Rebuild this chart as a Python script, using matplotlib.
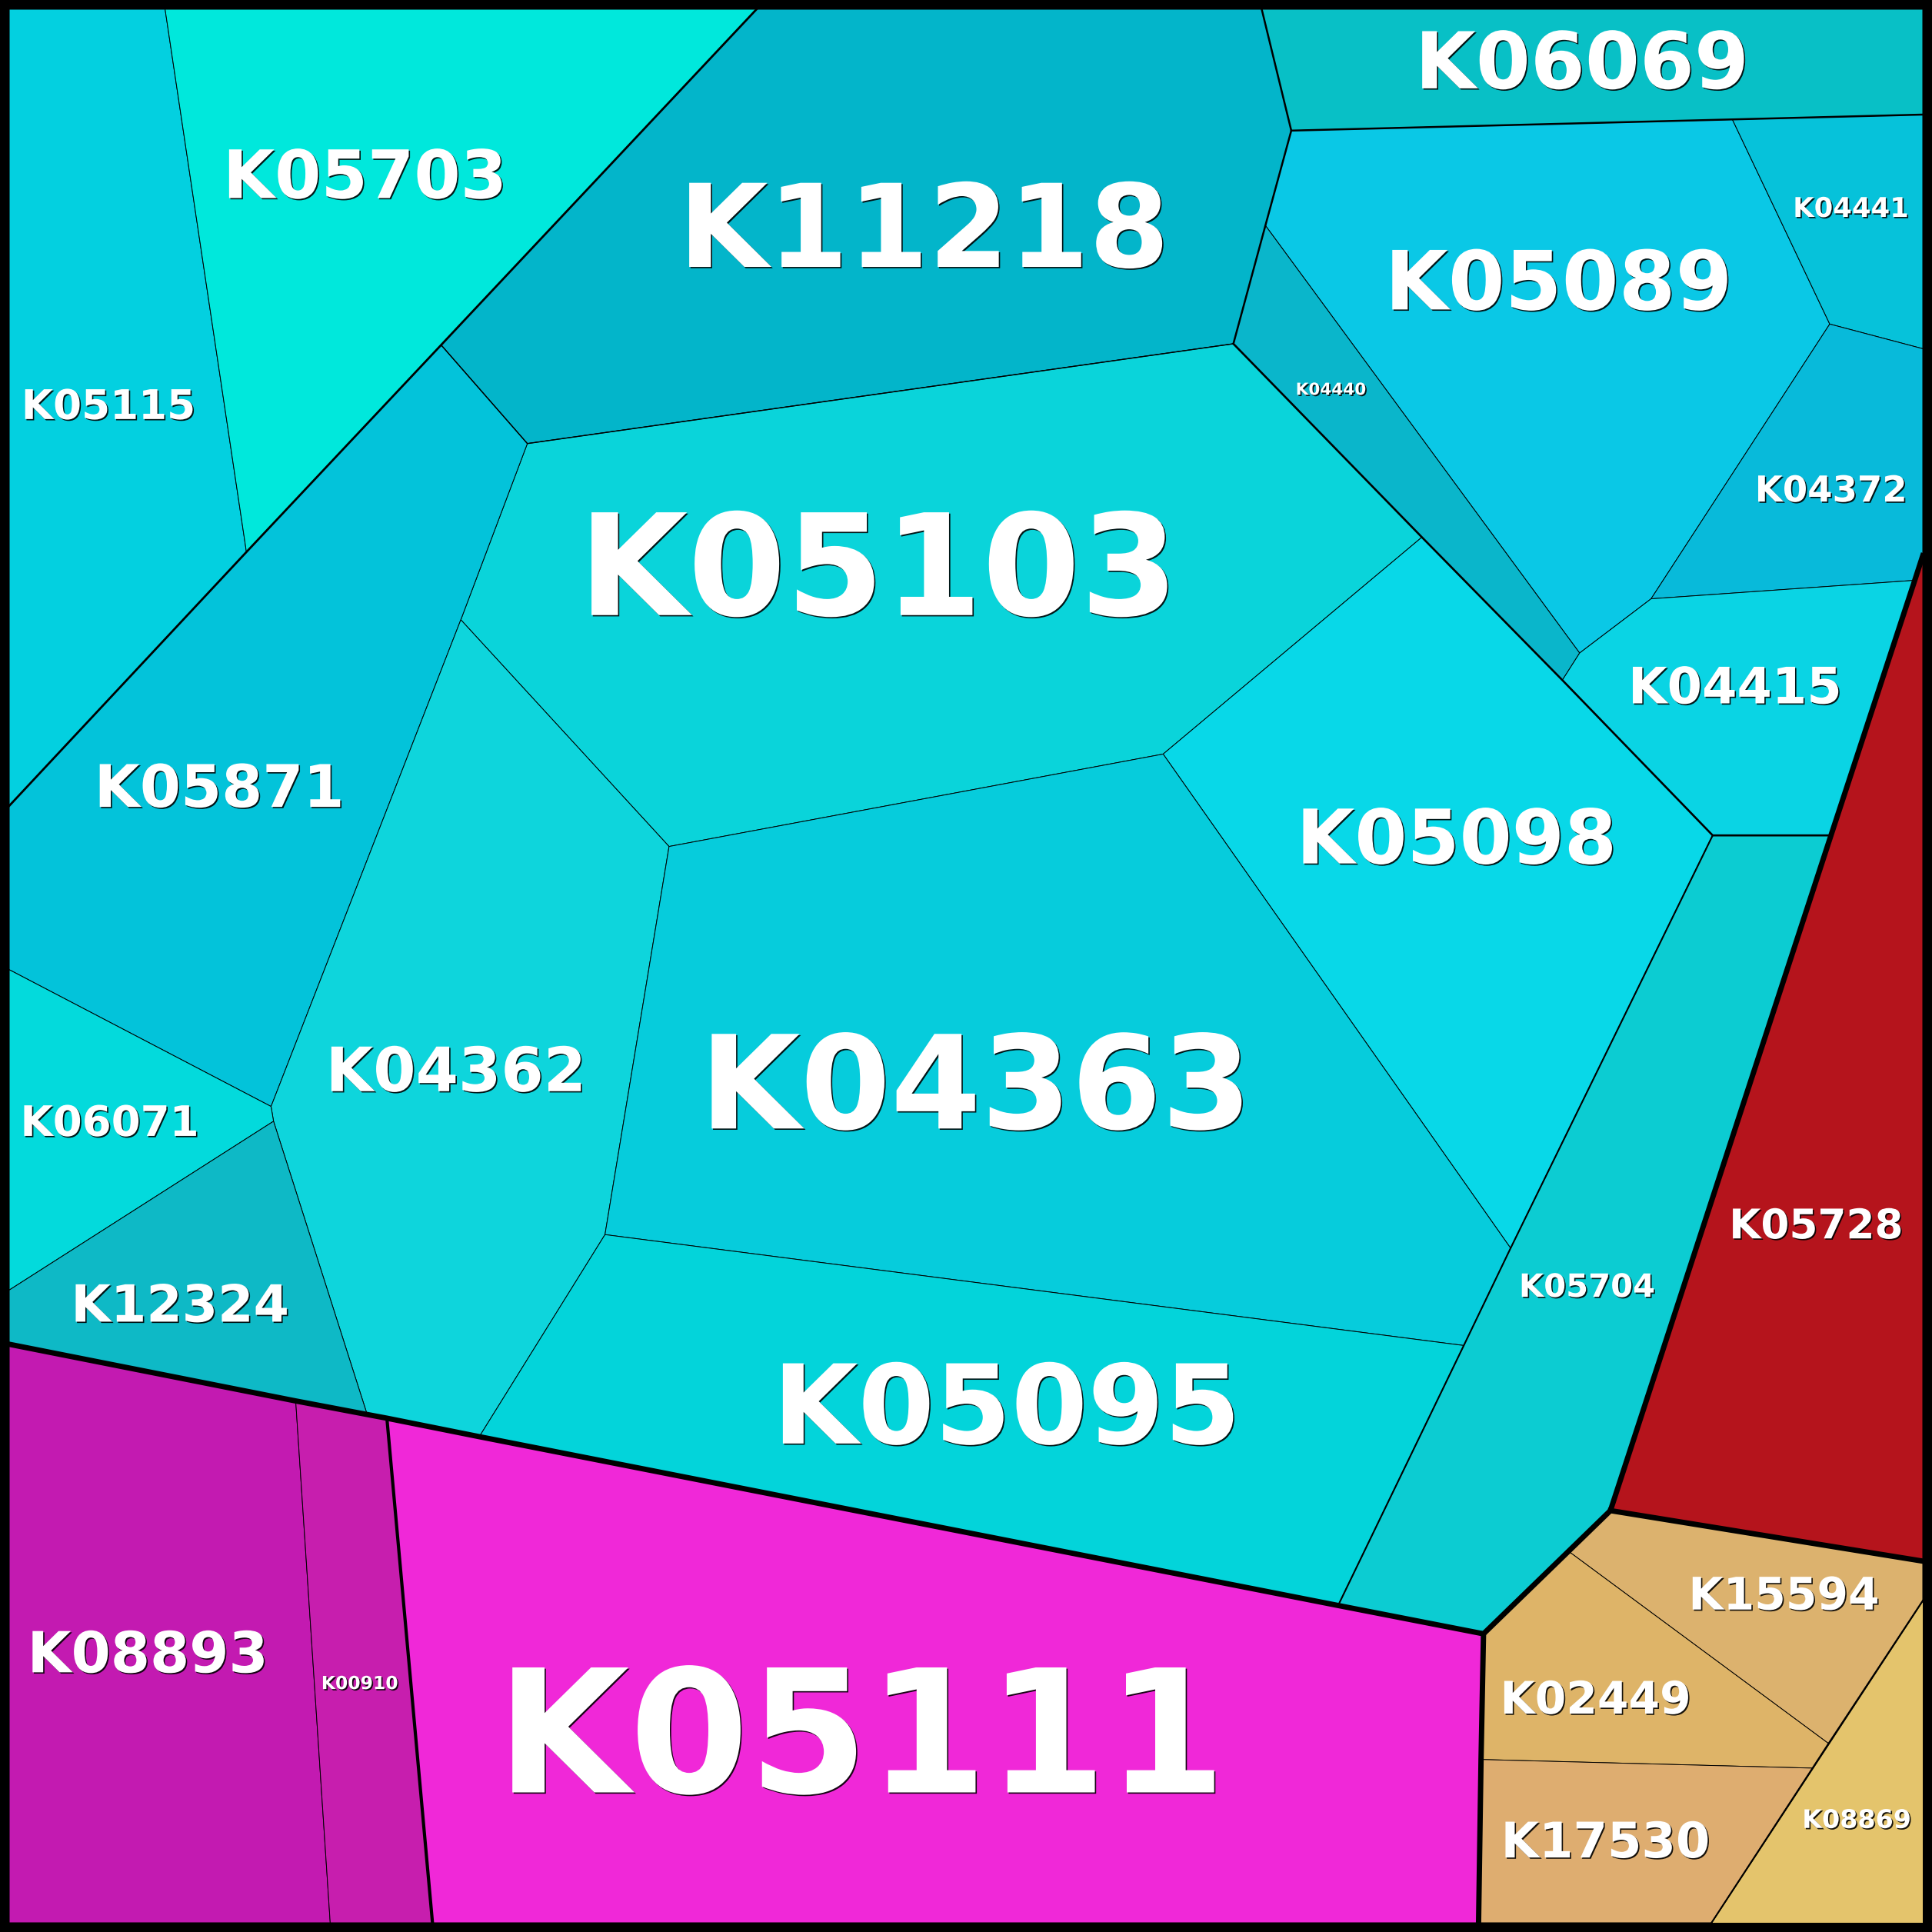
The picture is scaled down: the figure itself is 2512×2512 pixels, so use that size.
import matplotlib
matplotlib.use("Agg")
import matplotlib.pyplot as plt
from matplotlib.patches import Polygon
import matplotlib.patheffects as pe

# Voronoi treemap of KEGG orthologs, coordinates
# (image units, 1568 x 1568, y going down)

punti = {
    "tl": (7.5, 7.5), "tr": (1560.5, 7.5), "br": (1560.5, 1560.5), "bl": (7.5, 1560.5),
    "a": (134, 7.5), "b": (614, 7.5), "c": (1024, 7.5),
    "d": (1048, 106), "e": (1560.5, 93), "f": (1406, 97),
    "g": (1485, 263), "h": (1560.5, 283), "i": (1340, 486),
    "j": (1554, 471), "q": (1560.5, 451), "k": (1282, 530), "l": (1268, 552),
    "m": (1027, 183), "n": (1001, 279), "o": (1154, 436),
    "p1": (1390, 678), "p2": (1486, 678),
    "r": (1307, 1226), "s": (1560.5, 1267), "t": (1204, 1326),
    "u": (1273, 1259), "v": (1484, 1415), "w": (1471, 1435), "x": (1202, 1428),
    "y1": (1560.5, 1299), "z1": (1389, 1560.5), "z2": (1200, 1560.5),
    "a2": (200, 448), "a3": (7.5, 654), "b2": (358, 280), "b3": (428, 360),
    "b4": (374, 503), "b5": (543, 687), "b6": (944, 612), "b7": (1226, 1013),
    "b8": (1188, 1092), "b9": (491, 1002),
    "c1": (389, 1166), "c2": (298, 1148), "c3": (222, 910), "c4": (220, 898),
    "c5": (7.5, 787), "c6": (7.5, 1047), "c7": (7.5, 1091),
    "c8": (240, 1137), "c9": (314, 1151), "d1": (1086, 1303),
    "d2": (268, 1560.5), "d3": (351, 1560.5),
}

nomi = ["K05115", "K05703", "K11218", "K06069", "K05089", "K04441", "K04372",
        "K04440", "K04415", "K05103", "K05871", "K05098", "K04362", "K04363",
        "K06071", "K12324", "K05095", "K05704", "K05728", "K15594", "K02449",
        "K17530", "K08869", "K08893", "K00910", "K05111"]

celle = [
    ["tl", "a", "a2", "a3"],
    ["a", "b", "b2", "a2"],
    ["b", "c", "d", "m", "n", "b3", "b2"],
    ["c", "tr", "e", "f", "d"],
    ["d", "f", "g", "i", "k", "m"],
    ["f", "e", "h", "g"],
    ["g", "h", "q", "j", "i"],
    ["m", "k", "l", "o", "n"],
    ["l", "k", "i", "j", "p2", "p1"],
    ["b3", "n", "o", "b6", "b5", "b4"],
    ["a3", "a2", "b2", "b3", "b4", "c4", "c5"],
    ["o", "l", "p1", "b7", "b6"],
    ["b4", "b5", "b9", "c1", "c2", "c3", "c4"],
    ["b5", "b6", "b7", "b8", "b9"],
    ["c5", "c4", "c3", "c6"],
    ["c6", "c3", "c2", "c7"],
    ["b9", "b8", "d1", "c1"],
    ["p1", "p2", "r", "t", "d1", "b8", "b7"],
    ["q", "s", "r"],
    ["r", "s", "y1", "v", "u"],
    ["u", "v", "w", "x", "t"],
    ["x", "w", "z1", "z2"],
    ["y1", "br", "z1"],
    ["c7", "c8", "d2", "bl"],
    ["c8", "c9", "d3", "d2"],
    ["c9", "t", "z2", "d3"],
]

colori = ["#03D0E0", "#00E8DC", "#03B5CA", "#08C0C6", "#0AC8E6", "#06C2DA",
          "#08BADA", "#0AB6CB", "#0AD4E4", "#0AD4DA", "#03C3DA", "#08D8E8",
          "#0ED5DC", "#06CCDC", "#03DADC", "#0EB9C6", "#03D4DA", "#0CCCD2",
          "#B5141C", "#DCB26E", "#DEB468", "#DEAD70", "#E4C46C", "#C31AB1",
          "#C71EAE", "#F028D8"]

# dimensione etichette (punti) e centro delle maiuscole
taglie = [38.3, 62.5, 108, 73.5, 76.5, 25.5, 33.5, 15.5, 47, 132, 55, 70.5, 57.3, 121.5,
          39.3, 48, 103, 30, 38.3, 42, 42, 46, 24, 53, 16.9, 160.5]
centri = [(88, 328), (296, 141), (750, 182.5), (1284, 48.5), (1265, 227),
          (1502, 168), (1486, 396.5), (1080, 315.5), (1408, 556), (713, 457.5),
          (178, 637.5), (1182, 678.5), (370, 867.5), (792, 877.5), (89, 909.5),
          (146, 1057.5), (817, 1139), (1288, 1043), (1474, 993), (1448, 1293),
          (1295, 1377.5), (1303, 1493), (1507, 1476), (120, 1340.5),
          (292, 1365.5), (699, 1404)]

# bordi tra gruppi della gerarchia, piu' spessi
bordi = [
    (["c7", "c8", "c2", "c9", "c1", "d1", "t", "r", "p2", "j", "q"], 5.0),
    (["r", "s"], 5.0),
    (["t", "x", "z2"], 5.0),
    (["c9", "d3"], 3.0),
    (["b", "b2", "a2", "a3"], 2.0),
    (["c", "d", "e"], 1.8),
    (["d", "m", "n"], 1.8),
    (["n", "o", "l", "p1", "p2"], 1.9),
    (["p1", "b7", "b8", "d1"], 1.5),
    (["y1", "v", "w", "z1"], 1.4),
    (["b2", "b3", "n"], 1.0),
]

fig = plt.figure(figsize=(25.12, 25.12), dpi=100, facecolor="black")
ax = fig.add_axes([0, 0, 1, 1])
ax.set_xlim(0, 1568)
ax.set_ylim(1568, 0)
ax.axis("off")

for nome, cella, col in zip(nomi, celle, colori):
    xy = [punti[p] for p in cella]
    ax.add_patch(Polygon(xy, closed=True, facecolor=col, edgecolor="black",
                         linewidth=0.7, joinstyle="miter"))

for catena, lw in bordi:
    xs = [punti[p][0] for p in catena]
    ys = [punti[p][1] for p in catena]
    ax.plot(xs, ys, color="black", linewidth=lw, solid_joinstyle="miter",
            solid_capstyle="projecting")

ombra = [pe.SimplePatchShadow(offset=(1.2, -1.2), shadow_rgbFace="black", alpha=0.9),
         pe.Normal()]

for nome, fs, (cx, cy) in zip(nomi, taglie, centri):
    # baseline = centro + meta' altezza maiuscole
    yb = cy + 0.316 * fs
    ax.text(cx, yb, nome, fontsize=fs, fontweight="bold", color="white",
            ha="center", va="baseline", family="DejaVu Sans", path_effects=ombra)

fig.savefig("out.png", dpi=100, facecolor="black")
